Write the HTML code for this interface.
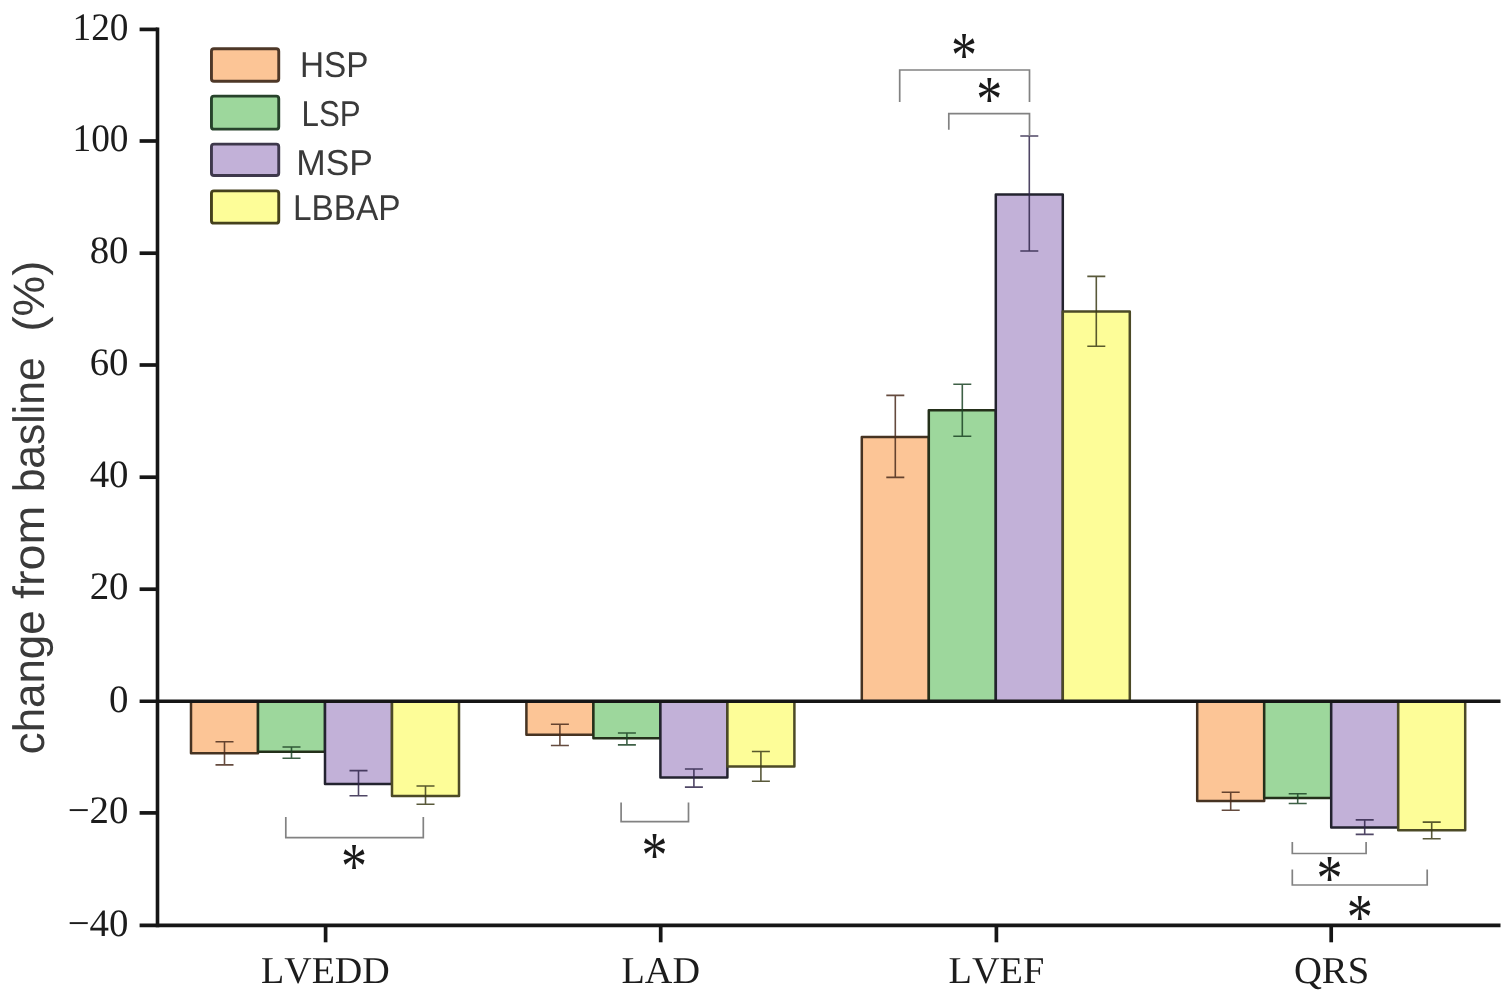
<!DOCTYPE html>
<html lang="en"><head><meta charset="utf-8"><title>Change from baseline by pacing group</title>
<style>html,body{margin:0;padding:0;background:#fff}body{width:1505px;height:999px;overflow:hidden}svg{display:block}text{text-rendering:geometricPrecision}</style></head>
<body>
<svg width="1505" height="999" viewBox="0 0 1505 999">
<rect x="0" y="0" width="1505" height="999" fill="#ffffff"/>
<g stroke-linejoin="round">
<rect x="191.00" y="701.30" width="67.00" height="52.00" fill="#fcc596" stroke="#463322" stroke-width="2.5"/>
<rect x="258.00" y="701.30" width="67.00" height="50.40" fill="#9dd79c" stroke="#24301a" stroke-width="2.5"/>
<rect x="325.00" y="701.30" width="67.00" height="82.70" fill="#c2b1d8" stroke="#23232f" stroke-width="2.5"/>
<rect x="392.00" y="701.30" width="67.00" height="94.70" fill="#fdfd98" stroke="#4c4a26" stroke-width="2.5"/>
<rect x="526.40" y="701.30" width="67.00" height="33.50" fill="#fcc596" stroke="#463322" stroke-width="2.5"/>
<rect x="593.40" y="701.30" width="67.00" height="37.00" fill="#9dd79c" stroke="#24301a" stroke-width="2.5"/>
<rect x="660.40" y="701.30" width="67.00" height="76.10" fill="#c2b1d8" stroke="#23232f" stroke-width="2.5"/>
<rect x="727.40" y="701.30" width="67.00" height="65.30" fill="#fdfd98" stroke="#4c4a26" stroke-width="2.5"/>
<rect x="861.80" y="437.00" width="67.00" height="264.30" fill="#fcc596" stroke="#463322" stroke-width="2.5"/>
<rect x="928.80" y="410.20" width="67.00" height="291.10" fill="#9dd79c" stroke="#24301a" stroke-width="2.5"/>
<rect x="995.80" y="194.40" width="67.00" height="506.90" fill="#c2b1d8" stroke="#23232f" stroke-width="2.5"/>
<rect x="1062.80" y="311.60" width="67.00" height="389.70" fill="#fdfd98" stroke="#4c4a26" stroke-width="2.5"/>
<rect x="1197.20" y="701.30" width="67.00" height="99.70" fill="#fcc596" stroke="#463322" stroke-width="2.5"/>
<rect x="1264.20" y="701.30" width="67.00" height="96.60" fill="#9dd79c" stroke="#24301a" stroke-width="2.5"/>
<rect x="1331.20" y="701.30" width="67.00" height="126.20" fill="#c2b1d8" stroke="#23232f" stroke-width="2.5"/>
<rect x="1398.20" y="701.30" width="67.00" height="129.00" fill="#fdfd98" stroke="#4c4a26" stroke-width="2.5"/>
</g>
<g fill="none" stroke-width="1.6" stroke-opacity="0.85">
<path d="M215.50 741.80H233.50M224.50 741.80V764.90M215.50 764.90H233.50" stroke="#4a2c1c"/>
<path d="M282.50 747.00H300.50M291.50 747.00V758.30M282.50 758.30H300.50" stroke="#1c4426"/>
<path d="M349.50 770.60H367.50M358.50 770.60V795.80M349.50 795.80H367.50" stroke="#30264a"/>
<path d="M416.50 786.00H434.50M425.50 786.00V804.20M416.50 804.20H434.50" stroke="#3c3c18"/>
<path d="M550.90 724.30H568.90M559.90 724.30V745.50M550.90 745.50H568.90" stroke="#4a2c1c"/>
<path d="M617.90 733.00H635.90M626.90 733.00V744.90M617.90 744.90H635.90" stroke="#1c4426"/>
<path d="M684.90 769.00H702.90M693.90 769.00V787.10M684.90 787.10H702.90" stroke="#30264a"/>
<path d="M751.90 751.50H769.90M760.90 751.50V781.30M751.90 781.30H769.90" stroke="#3c3c18"/>
<path d="M886.30 395.40H904.30M895.30 395.40V477.40M886.30 477.40H904.30" stroke="#4a2c1c"/>
<path d="M953.30 384.30H971.30M962.30 384.30V436.20M953.30 436.20H971.30" stroke="#1c4426"/>
<path d="M1020.30 136.00H1038.30M1029.30 136.00V251.00M1020.30 251.00H1038.30" stroke="#30264a"/>
<path d="M1087.30 276.40H1105.30M1096.30 276.40V346.20M1087.30 346.20H1105.30" stroke="#3c3c18"/>
<path d="M1221.70 792.30H1239.70M1230.70 792.30V810.20M1221.70 810.20H1239.70" stroke="#4a2c1c"/>
<path d="M1288.70 793.80H1306.70M1297.70 793.80V803.50M1288.70 803.50H1306.70" stroke="#1c4426"/>
<path d="M1355.70 819.90H1373.70M1364.70 819.90V834.40M1355.70 834.40H1373.70" stroke="#30264a"/>
<path d="M1422.70 822.10H1440.70M1431.70 822.10V838.70M1422.70 838.70H1440.70" stroke="#3c3c18"/>
</g>
<g stroke="#161616" stroke-width="3.6" fill="none" stroke-linecap="butt">
<path d="M157.50 27.60V927.20"/>
<path d="M139.60 925.40H1500.50"/>
<path d="M139.60 701.30H1500.50"/>
<path d="M139.60 29.40H157.50" stroke-width="3.7"/>
<path d="M139.60 141.00H157.50" stroke-width="3.7"/>
<path d="M139.60 253.20H157.50" stroke-width="3.7"/>
<path d="M139.60 365.00H157.50" stroke-width="3.7"/>
<path d="M139.60 477.20H157.50" stroke-width="3.7"/>
<path d="M139.60 589.20H157.50" stroke-width="3.7"/>
<path d="M139.60 812.90H157.50" stroke-width="3.7"/>
<path d="M325.60 925.40V942.30" stroke-width="3.7"/>
<path d="M660.70 925.40V942.30" stroke-width="3.7"/>
<path d="M996.40 925.40V942.30" stroke-width="3.7"/>
<path d="M1331.20 925.40V942.30" stroke-width="3.7"/>
</g>
<g fill="none" stroke="#828282" stroke-width="1.7">
<path d="M285.8 817V837.6H423.3V817"/>
<path d="M621.1 802.6V821.7H688.5V802.6"/>
<path d="M899.7 102V70H1029.5V102"/>
<path d="M948.8 129.8V113.7H1029.5V136"/>
<path d="M1292.3 842V853.5H1366.1V842"/>
<path d="M1292.3 869.5V885H1427.2V869.5"/>
</g>
<text transform="translate(341.00,887.74) scale(0.8667,1.0959)" font-family="Liberation Serif, serif" font-size="60.0" fill="#1a1a1a">*</text>
<text transform="translate(641.50,876.54) scale(0.8667,1.0959)" font-family="Liberation Serif, serif" font-size="60.0" fill="#1a1a1a">*</text>
<text transform="translate(951.10,76.94) scale(0.8667,1.0959)" font-family="Liberation Serif, serif" font-size="60.0" fill="#1a1a1a">*</text>
<text transform="translate(976.30,121.34) scale(0.8667,1.0959)" font-family="Liberation Serif, serif" font-size="60.0" fill="#1a1a1a">*</text>
<text transform="translate(1316.40,900.04) scale(0.8667,1.0959)" font-family="Liberation Serif, serif" font-size="60.0" fill="#1a1a1a">*</text>
<text transform="translate(1346.70,938.74) scale(0.8667,1.0959)" font-family="Liberation Serif, serif" font-size="60.0" fill="#1a1a1a">*</text>
<text transform="translate(72.48,39.64) scale(0.9600,1)" font-family="Liberation Serif, serif" font-size="38.90" fill="#1c1c1c" style="white-space:pre;">120</text>
<text transform="translate(72.48,151.24) scale(0.9600,1)" font-family="Liberation Serif, serif" font-size="38.90" fill="#1c1c1c" style="white-space:pre;">100</text>
<text transform="translate(89.66,263.44) scale(1.0000,1)" font-family="Liberation Serif, serif" font-size="38.90" fill="#1c1c1c" style="white-space:pre;">80</text>
<text transform="translate(89.66,375.24) scale(1.0000,1)" font-family="Liberation Serif, serif" font-size="38.90" fill="#1c1c1c" style="white-space:pre;">60</text>
<text transform="translate(89.66,487.44) scale(1.0000,1)" font-family="Liberation Serif, serif" font-size="38.90" fill="#1c1c1c" style="white-space:pre;">40</text>
<text transform="translate(89.66,599.44) scale(1.0000,1)" font-family="Liberation Serif, serif" font-size="38.90" fill="#1c1c1c" style="white-space:pre;">20</text>
<text transform="translate(109.11,711.54) scale(1.0000,1)" font-family="Liberation Serif, serif" font-size="38.90" fill="#1c1c1c" style="white-space:pre;">0</text>
<text transform="translate(67.68,823.14) scale(1.0000,1)" font-family="Liberation Serif, serif" font-size="38.90" fill="#1c1c1c" style="white-space:pre;">−20</text>
<text transform="translate(67.68,935.64) scale(1.0000,1)" font-family="Liberation Serif, serif" font-size="38.90" fill="#1c1c1c" style="white-space:pre;">−40</text>
<text transform="translate(260.96,983.30) scale(1.0003,1)" font-family="Liberation Serif, serif" font-size="38.00" fill="#1c1c1c" style="white-space:pre;font-kerning:none;">LVEDD</text>
<text transform="translate(621.56,983.30) scale(1.0036,1)" font-family="Liberation Serif, serif" font-size="38.00" fill="#1c1c1c" style="white-space:pre;font-kerning:none;">LAD</text>
<text transform="translate(948.55,983.30) scale(1.0083,1)" font-family="Liberation Serif, serif" font-size="38.00" fill="#1c1c1c" style="white-space:pre;font-kerning:none;">LVEF</text>
<text transform="translate(1293.95,982.70) scale(1.0170,1)" font-family="Liberation Serif, serif" font-size="38.00" fill="#1c1c1c" style="white-space:pre;font-kerning:none;">QRS</text>
<rect x="211.45" y="48.75" width="67.30" height="32.50" rx="2.5" ry="2.5" fill="#fcc596" stroke="#4e3828" stroke-width="2.9"/>
<rect x="211.45" y="96.15" width="67.30" height="33.00" rx="2.5" ry="2.5" fill="#9dd79c" stroke="#27432b" stroke-width="2.9"/>
<rect x="211.45" y="144.15" width="67.30" height="31.30" rx="2.5" ry="2.5" fill="#c2b1d8" stroke="#3e384c" stroke-width="2.9"/>
<rect x="211.45" y="190.85" width="67.30" height="32.30" rx="2.5" ry="2.5" fill="#fdfd98" stroke="#45411c" stroke-width="2.9"/>
<text transform="translate(299.94,77.30) scale(0.9250,1)" font-family="Liberation Sans, sans-serif" font-size="36.00" fill="#3a3a3a" style="white-space:pre;">HSP</text>
<text transform="translate(301.50,125.70) scale(0.8681,1)" font-family="Liberation Sans, sans-serif" font-size="36.00" fill="#3a3a3a" style="white-space:pre;">LSP</text>
<text transform="translate(296.17,175.20) scale(0.9828,1)" font-family="Liberation Sans, sans-serif" font-size="36.00" fill="#3a3a3a" style="white-space:pre;">MSP</text>
<text transform="translate(292.93,220.40) scale(0.9277,1)" font-family="Liberation Sans, sans-serif" font-size="36.00" fill="#3a3a3a" style="white-space:pre;">LBBAP</text>
<text transform="translate(44.00,0) rotate(-90)" y="0" font-family="Liberation Sans, sans-serif" font-size="44.00" fill="#3a3a3a"><tspan x="-754.17" textLength="143.68" lengthAdjust="spacingAndGlyphs">change</tspan> <tspan x="-599.10" textLength="93.44" lengthAdjust="spacingAndGlyphs">from</tspan> <tspan x="-492.37" textLength="135.04" lengthAdjust="spacingAndGlyphs">basline</tspan> <tspan x="-331.64" textLength="70.99" lengthAdjust="spacingAndGlyphs">(%)</tspan></text>
</svg>
</body></html>
